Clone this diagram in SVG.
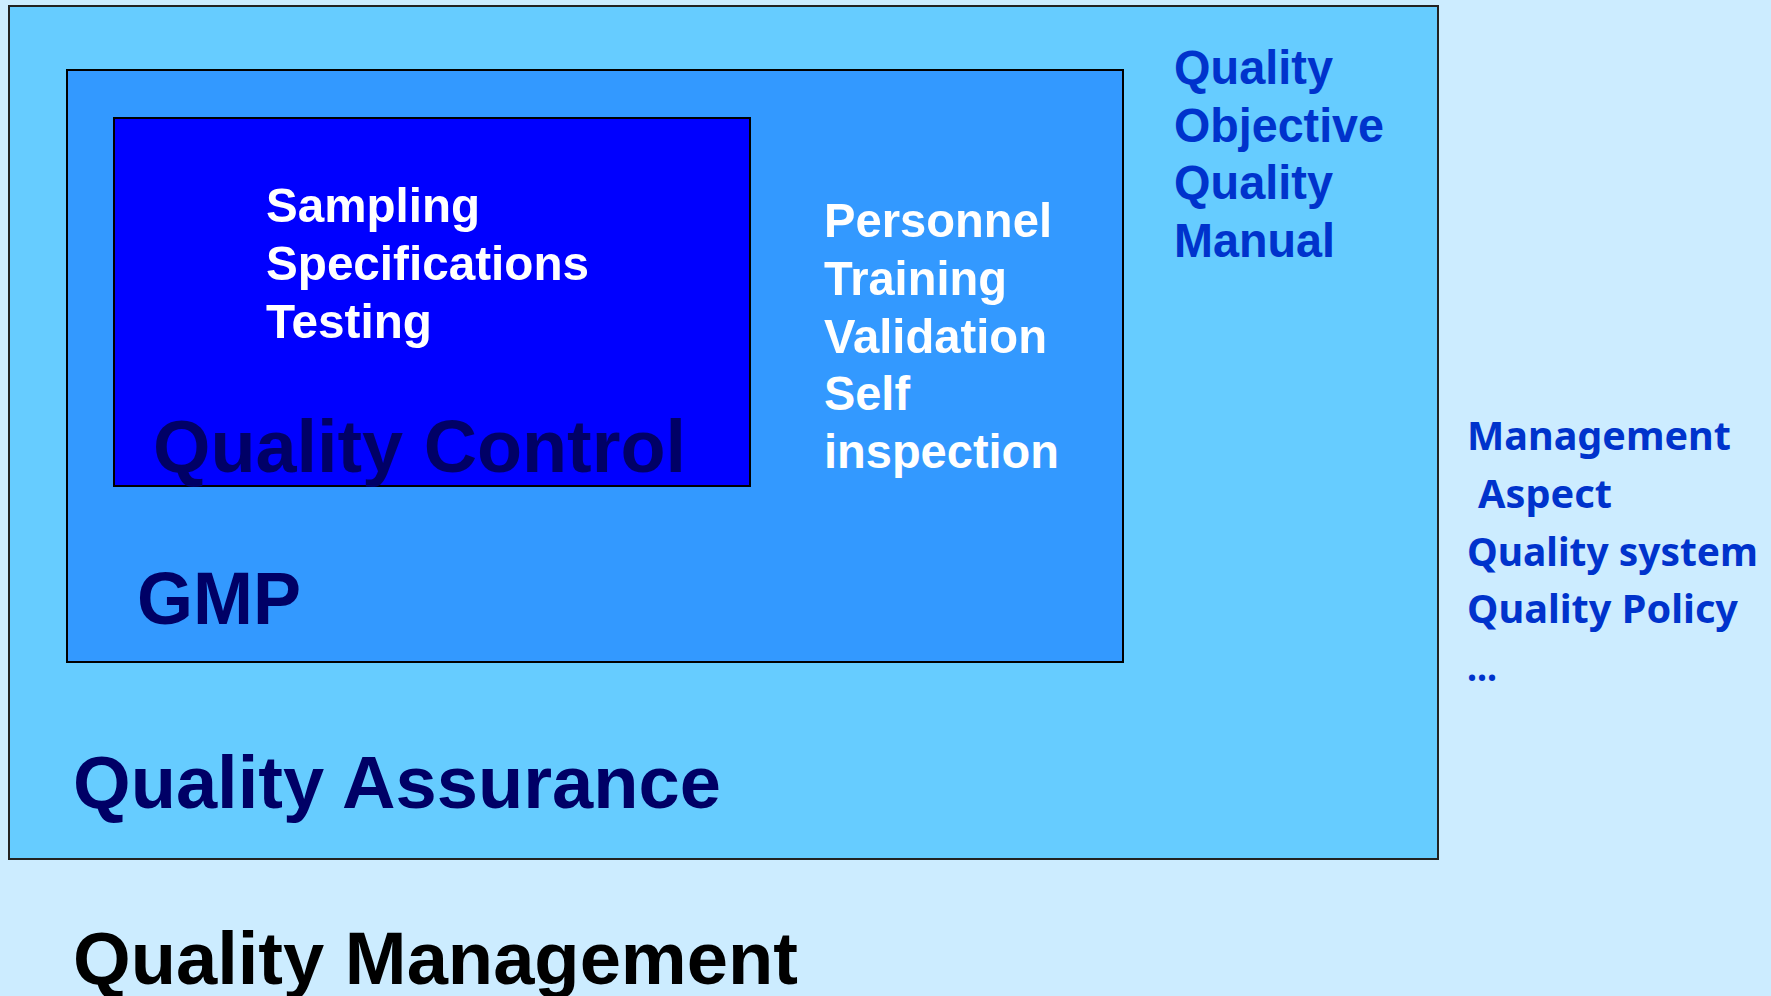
<svg xmlns="http://www.w3.org/2000/svg" width="1771" height="996" viewBox="0 0 1771 996">
<style>
.b{font-family:"Liberation Sans",Arial,sans-serif;font-weight:bold}
.w{fill:#FFFFFF;font-size:49px}
.navy{fill:#000066;font-size:74px}
.blue{fill:#0033CC;font-size:49px}
.side{font-family:"Noto Sans","Liberation Sans",sans-serif;font-weight:bold;fill:#0033CC;font-size:39px}
</style>
<rect x="0" y="0" width="1771" height="996" fill="#CCECFF"/>
<g id="quality-assurance">
<rect x="9" y="6" width="1429" height="853" fill="#66CCFF" stroke="#222" stroke-width="2"/>
<text class="b navy" x="73" y="808" textLength="648" lengthAdjust="spacingAndGlyphs">Quality Assurance</text>
<g class="b blue">
<text x="1174" y="84" textLength="159" lengthAdjust="spacingAndGlyphs">Quality</text>
<text x="1174" y="142" textLength="210" lengthAdjust="spacingAndGlyphs">Objective</text>
<text x="1174" y="199" textLength="159" lengthAdjust="spacingAndGlyphs">Quality</text>
<text x="1174" y="257" textLength="161" lengthAdjust="spacingAndGlyphs">Manual</text>
</g>
</g>
<g id="gmp">
<rect x="67" y="70" width="1056" height="592" fill="#3399FF" stroke="#000" stroke-width="2"/>
<text class="b navy" x="137" y="624" textLength="164" lengthAdjust="spacingAndGlyphs">GMP</text>
<g class="b w">
<text x="824" y="237" textLength="228" lengthAdjust="spacingAndGlyphs">Personnel</text>
<text x="824" y="295" textLength="183" lengthAdjust="spacingAndGlyphs">Training</text>
<text x="824" y="353" textLength="223" lengthAdjust="spacingAndGlyphs">Validation</text>
<text x="824" y="410" textLength="86" lengthAdjust="spacingAndGlyphs">Self</text>
<text x="824" y="468" textLength="235" lengthAdjust="spacingAndGlyphs">inspection</text>
</g>
</g>
<g id="quality-control">
<rect x="114" y="118" width="636" height="368" fill="#0000FF" stroke="#000" stroke-width="2"/>
<g class="b w">
<text x="266" y="222" textLength="214" lengthAdjust="spacingAndGlyphs">Sampling</text>
<text x="266" y="280" textLength="323" lengthAdjust="spacingAndGlyphs">Specifications</text>
<text x="266" y="338" textLength="166" lengthAdjust="spacingAndGlyphs">Testing</text>
</g>
<text class="b" x="153" y="472" font-size="75" fill="#000066" textLength="533" lengthAdjust="spacingAndGlyphs">Quality Control</text>
</g>
<g id="quality-management">
<text class="b" x="73" y="984" font-size="74" fill="#000000" textLength="725" lengthAdjust="spacingAndGlyphs">Quality Management</text>
<g class="side">
<text x="1467" y="450" textLength="264" lengthAdjust="spacingAndGlyphs">Management</text>
<text x="1478" y="508" textLength="134" lengthAdjust="spacingAndGlyphs">Aspect</text>
<text x="1467" y="566" textLength="291" lengthAdjust="spacingAndGlyphs">Quality system</text>
<text x="1467" y="623" textLength="271" lengthAdjust="spacingAndGlyphs">Quality Policy</text>
<text x="1467" y="681" textLength="30" lengthAdjust="spacingAndGlyphs">...</text>
</g>
</g>
<g id="connectors"/>
</svg>
